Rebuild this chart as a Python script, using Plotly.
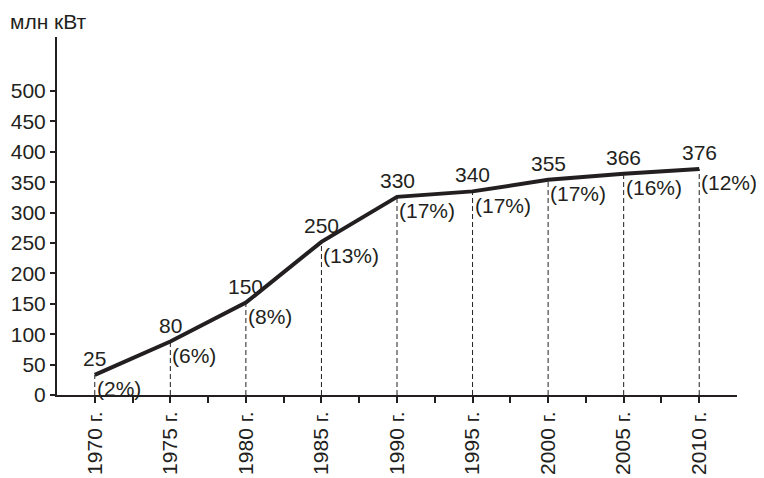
import plotly.graph_objects as go

years = [1970, 1975, 1980, 1985, 1990, 1995, 2000, 2005, 2010]
# where the points sit on the drawn line
drawn = [33, 88, 152, 252, 326, 335, 354, 364, 372]
# printed values and shares
value_labels = ["25", "80", "150", "250", "330", "340", "355", "366", "376"]
share_labels = ["(2%)", "(6%)", "(8%)", "(13%)", "(17%)", "(17%)", "(17%)", "(16%)", "(12%)"]
tick_text = [f"{y} г." for y in years]
minor_ticks = [1972.5, 1977.5, 1982.5, 1987.5, 1992.5, 1997.5, 2002.5, 2007.5]
y_ticks = list(range(0, 501, 50))

INK = "#231f20"
FONT = "Liberation Sans, Arial, sans-serif"
FS = 21

fig = go.Figure()

# dashed drop lines
for x, v in zip(years, drawn):
    fig.add_trace(go.Scatter(x=[x, x], y=[0, v], mode="lines",
                             line=dict(color=INK, width=1, dash="5px,3px"),
                             hoverinfo="skip", showlegend=False))

fig.add_trace(go.Scatter(x=years, y=drawn, mode="lines",
                         line=dict(color=INK, width=4), showlegend=False))

for x, v, vl, sl in zip(years, drawn, value_labels, share_labels):
    fig.add_annotation(x=x, y=v, text=vl, showarrow=False, xanchor="center",
                       yanchor="bottom", yshift=3, font=dict(size=FS, color=INK))
    fig.add_annotation(x=x, y=v, text=sl, showarrow=False, xanchor="left",
                       yanchor="middle", xshift=0, yshift=-14, font=dict(size=FS, color=INK))

fig.add_annotation(xref="paper", yref="paper", x=-0.072, y=1.081, text="млн кВт",
                   showarrow=False, xanchor="left", yanchor="top",
                   font=dict(size=FS, color=INK))

fig.update_xaxes(range=[1967.5, 2012.5], tickvals=years, ticktext=tick_text, tickangle=-90,
                 ticks="outside", ticklen=6, tickwidth=1.5, tickcolor=INK, automargin=False,
                 showline=True, linecolor=INK, linewidth=2, showgrid=False, zeroline=False,
                 minor=dict(tickvals=minor_ticks, ticks="outside", ticklen=6, tickwidth=1.5, tickcolor=INK),
                 tickfont=dict(size=FS, color=INK))
fig.update_yaxes(range=[0, 589], tickvals=y_ticks, ticks="outside", ticklen=5, tickwidth=1.5,
                 tickcolor=INK, showline=True, linecolor=INK, linewidth=2, showgrid=False,
                 zeroline=False, automargin=False, tickfont=dict(size=FS, color=INK))

# the page adds an 8px body margin, so the margins are offset by it
fig.update_layout(width=764, height=478, margin=dict(l=49, r=35, t=29, b=91),
                  plot_bgcolor="white", paper_bgcolor="white",
                  font=dict(family=FONT, color=INK))

fig.write_html("out.html")
